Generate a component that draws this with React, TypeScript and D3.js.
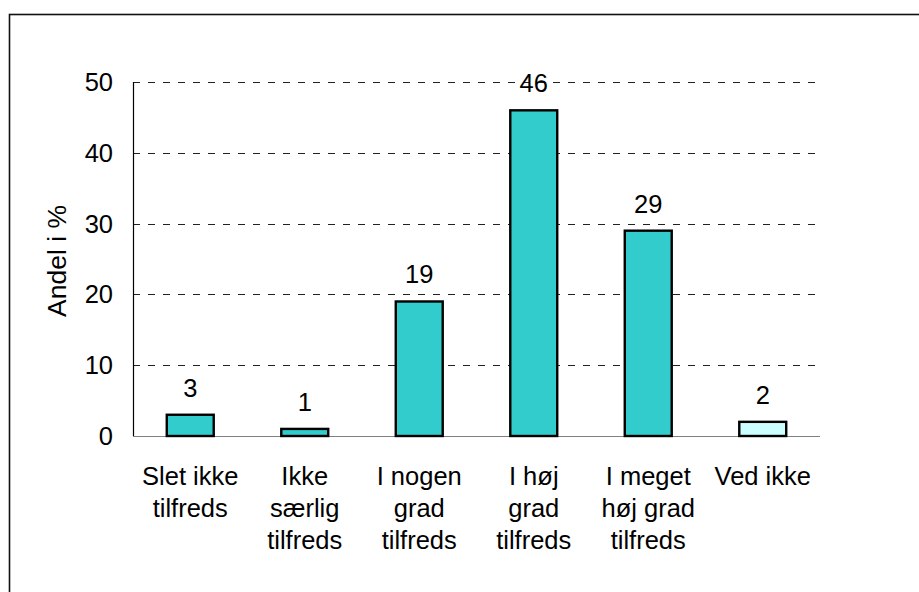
import React from "react";
import * as d3 from "d3";

const categories: string[][] = [
  ["Slet ikke", "tilfreds"],
  ["Ikke", "særlig", "tilfreds"],
  ["I nogen", "grad", "tilfreds"],
  ["I høj", "grad", "tilfreds"],
  ["I meget", "høj grad", "tilfreds"],
  ["Ved ikke"],
];
const values: number[] = [3, 1, 19, 46, 29, 2];
const fills: string[] = ["#33CCCC", "#33CCCC", "#33CCCC", "#33CCCC", "#33CCCC", "#CCFFFF"];
const yTicks: number[] = [0, 10, 20, 30, 40, 50];
const yTitle = "Andel i %";

const W = 919;
const H = 592;
const plot = { left: 133, right: 820, top: 82, bottom: 436 };
const FONT = "'Liberation Sans', Arial, sans-serif";
const FS = 25.5;

export default function App() {
  const x = d3
    .scaleBand<number>()
    .domain(values.map((_, i) => i))
    .range([plot.left, plot.right])
    .paddingInner(0.59)
    .paddingOuter(0.295);
  const y = d3.scaleLinear().domain([0, 50]).range([plot.bottom, plot.top]);
  const bw = x.bandwidth();

  return (
    <svg
      width={W}
      height={H}
      style={{ position: "absolute", left: 0, top: 0, background: "#fff" }}
      fontFamily={FONT}
    >
      <rect x={0} y={0} width={W} height={H} fill="#fff" />
      {/* frame */}
      <rect x={9.5} y={14.5} width={W + 20} height={H + 20} fill="none" stroke="#111" strokeWidth={1.6} />

      {/* gridlines */}
      {yTicks
        .filter((t) => t > 0)
        .map((t) => (
          <line
            key={t}
            x1={plot.left}
            x2={plot.right - 3}
            y1={Math.round(y(t)) + 0.5}
            y2={Math.round(y(t)) + 0.5}
            stroke="#222"
            strokeWidth={1}
            strokeDasharray="7,8"
          />
        ))}

      {/* axes */}
      <line x1={plot.left} x2={plot.right} y1={plot.bottom + 0.5} y2={plot.bottom + 0.5} stroke="#808080" strokeWidth={1.2} />
      <line x1={plot.left + 0.5} x2={plot.left + 0.5} y1={plot.top} y2={plot.bottom} stroke="#000" strokeWidth={1.2} />

      {/* y tick labels */}
      {yTicks.map((t) => (
        <text
          key={t}
          x={113}
          y={y(t)}
          dy="0.35em"
          textAnchor="end"
          fontSize={FS}
          fill="#000"
        >
          {t}
        </text>
      ))}

      {/* y title */}
      <text
        transform={`translate(66, ${(plot.top + plot.bottom) / 2 + 2}) rotate(-90)`}
        textAnchor="middle"
        fontSize={FS + 1}
        fill="#000"
      >
        {yTitle}
      </text>

      {/* bars */}
      {values.map((v, i) => (
        <g key={i}>
          <rect
            x={x(i)!}
            y={y(v)}
            width={bw}
            height={y(0) - y(v)}
            fill={fills[i]}
            stroke="#000"
            strokeWidth={2.4}
          />
          <text
            x={x(i)! + bw / 2}
            y={y(v) - 18}
            textAnchor="middle"
            fontSize={FS}
            fill="#000"
          >
            {v}
          </text>
        </g>
      ))}

      {/* category labels */}
      {categories.map((lines, i) => (
        <text key={i} textAnchor="middle" fontSize={FS} fill="#000">
          {lines.map((ln, j) => (
            <tspan key={j} x={x(i)! + bw / 2} y={485 + j * 32}>
              {ln}
            </tspan>
          ))}
        </text>
      ))}
    </svg>
  );
}
